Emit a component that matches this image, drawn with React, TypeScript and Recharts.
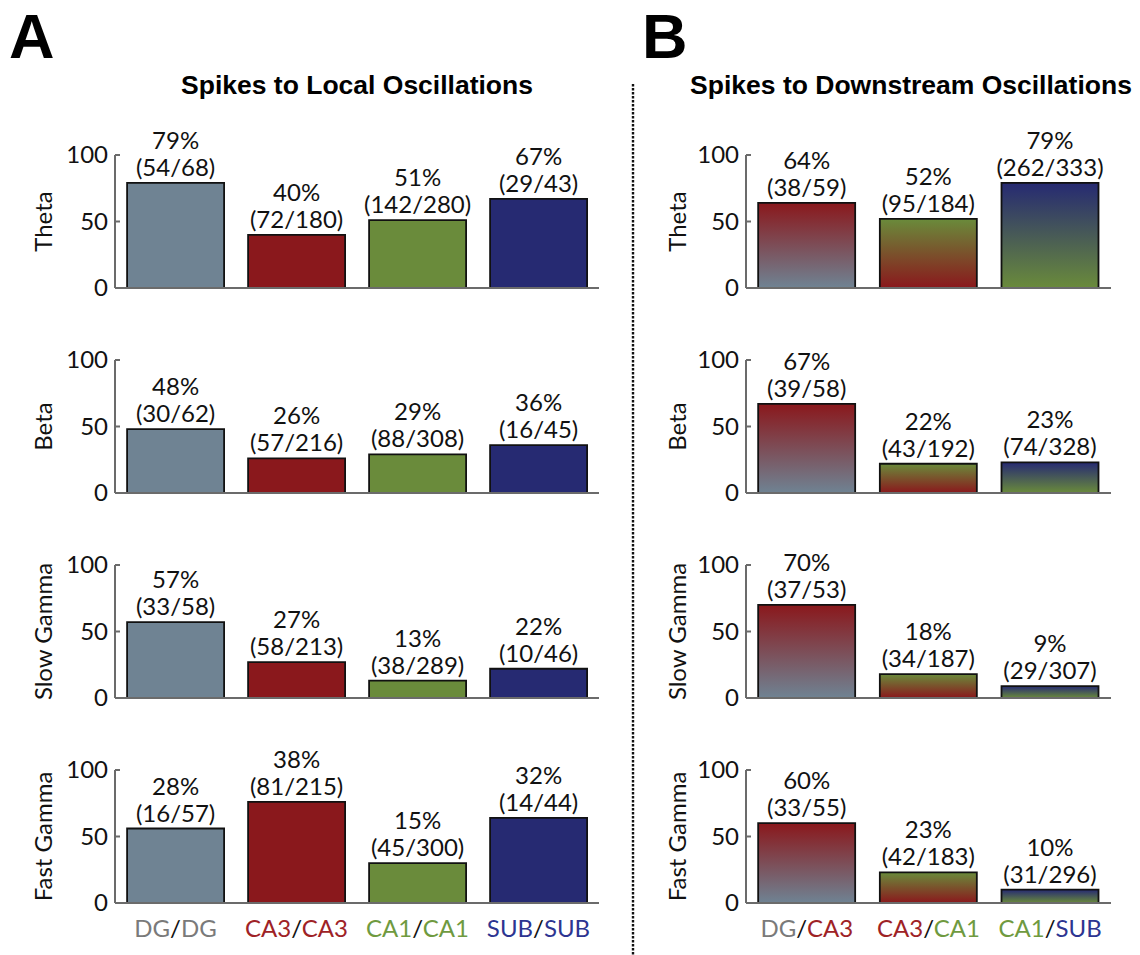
import React from "react";
import { BarChart, Bar, XAxis, YAxis, Cell, LabelList } from "recharts";

// categories
const localCategories = ["DG/DG", "CA3/CA3", "CA1/CA1", "SUB/SUB"];
const downstreamCategories = ["DG/CA3", "CA3/CA1", "CA1/SUB"];
const bandNames = ["Theta", "Beta", "Slow Gamma", "Fast Gamma"];

// spikes to local oscillations: bar heights as drawn
const localTheta = [79, 40, 51, 67];
const localBeta = [48, 26, 29, 36];
const localSlowGamma = [57, 27, 13, 22];
const localFastGamma = [56, 76, 30, 64];

const localThetaPct = ["79%", "40%", "51%", "67%"];
const localBetaPct = ["48%", "26%", "29%", "36%"];
const localSlowGammaPct = ["57%", "27%", "13%", "22%"];
const localFastGammaPct = ["28%", "38%", "15%", "32%"];

const localThetaCounts = ["(54/68)", "(72/180)", "(142/280)", "(29/43)"];
const localBetaCounts = ["(30/62)", "(57/216)", "(88/308)", "(16/45)"];
const localSlowGammaCounts = ["(33/58)", "(58/213)", "(38/289)", "(10/46)"];
const localFastGammaCounts = ["(16/57)", "(81/215)", "(45/300)", "(14/44)"];

// spikes to downstream oscillations
const downTheta = [64, 52, 79];
const downBeta = [67, 22, 23];
const downSlowGamma = [70, 18, 9];
const downFastGamma = [60, 23, 10];

const downThetaPct = ["64%", "52%", "79%"];
const downBetaPct = ["67%", "22%", "23%"];
const downSlowGammaPct = ["70%", "18%", "9%"];
const downFastGammaPct = ["60%", "23%", "10%"];

const downThetaCounts = ["(38/59)", "(95/184)", "(262/333)"];
const downBetaCounts = ["(39/58)", "(43/192)", "(74/328)"];
const downSlowGammaCounts = ["(37/53)", "(34/187)", "(29/307)"];
const downFastGammaCounts = ["(33/55)", "(42/183)", "(31/296)"];

const yTicks = [0, 50, 100];

const barColor: Record<string, string> = {
  DG: "#6f8393",
  CA3: "#8a181c",
  CA1: "#6a8b3b",
  SUB: "#262a72",
};
const textColor: Record<string, string> = {
  DG: "#7a7a7a",
  CA3: "#9e2226",
  CA1: "#6f9a40",
  SUB: "#2d3591",
};

const FONT = "Lato, 'Open Sans', sans-serif";
const FS = 24;
const AXIS = "#6b6b6b";

const PLOT_H = 133;
const ROW_PITCH = 205;
const FIRST_TOP = 155;
const TOP_PAD = 75;
const BOTTOM_PAD = 18;

function YTick(props: any) {
  const { x, y, payload } = props;
  return (
    <g>
      <line x1={x} x2={x + 5} y1={y} y2={y} stroke={AXIS} strokeWidth={2} />
      <text x={x - 7} y={y} dy={8} textAnchor="end" fontSize={FS} fontFamily={FONT} fill="#111">
        {payload.value}
      </text>
    </g>
  );
}

function CatTick(props: any) {
  const { x, y, payload } = props;
  const [a, b] = String(payload.value).split("/");
  return (
    <text x={x} y={y + 34} textAnchor="middle" fontSize={FS} fontFamily={FONT}>
      <tspan fill={textColor[a]}>{a}</tspan>
      <tspan fill="#111">/</tspan>
      <tspan fill={textColor[b]}>{b}</tspan>
    </text>
  );
}

function makeTopLabel(pct: string[], counts: string[]) {
  return (props: any) => {
    const x = Number(props.x);
    const y = Number(props.y);
    const w = Number(props.width);
    const i = props.index;
    const cx = x + w / 2;
    return (
      <text textAnchor="middle" fontSize={FS} fontFamily={FONT} fill="#111">
        <tspan x={cx} y={y - 34}>{pct[i]}</tspan>
        <tspan x={cx} y={y - 7}>{counts[i]}</tspan>
      </text>
    );
  };
}

interface RowProps {
  categories: string[];
  values: number[];
  pct: string[];
  counts: string[];
  band: string;
  row: number;
  left: number;
  width: number;
  yAxisWidth: number;
  rightPad: number;
  labelX: number;
  gradient?: boolean;
  idPrefix: string;
}

function Row(p: RowProps) {
  const last = p.row === 3;
  const xh = last ? 45 : 2;
  const bottom = last ? 0 : BOTTOM_PAD;
  const data = p.categories.map((c, i) => ({ name: c, value: p.values[i] }));
  const plotTop = FIRST_TOP + p.row * ROW_PITCH;
  return (
    <div style={{ position: "absolute", left: p.left, top: plotTop - TOP_PAD }}>
      <BarChart
        width={p.width}
        height={TOP_PAD + PLOT_H + xh + bottom}
        data={data}
        margin={{ top: TOP_PAD, right: p.rightPad, bottom, left: 0 }}
        barCategoryGap="10%"
      >
        <defs>
          {p.categories.map((c, i) => {
            const [a, b] = c.split("/");
            return (
              <linearGradient key={c} id={`${p.idPrefix}-${i}`} x1="0" y1="0" x2="0" y2="1">
                <stop offset="0%" stopColor={barColor[b]} />
                <stop offset="100%" stopColor={barColor[a]} />
              </linearGradient>
            );
          })}
        </defs>
        <XAxis
          dataKey="name"
          height={xh}
          axisLine={{ stroke: AXIS, strokeWidth: 2 }}
          tickLine={false}
          tickSize={0}
          tickMargin={0}
          interval={0}
          tick={last ? <CatTick /> : false}
        />
        <YAxis
          type="number"
          domain={[0, 100]}
          ticks={yTicks}
          interval={0}
          width={p.yAxisWidth}
          axisLine={{ stroke: AXIS, strokeWidth: 2 }}
          tickLine={false}
          tickSize={0}
          tickMargin={0}
          tick={<YTick />}
          label={(lp: any) => {
            const vb = lp.viewBox || {};
            const cy = vb.y + vb.height / 2;
            return (
              <text
                x={p.labelX}
                y={cy}
                transform={`rotate(-90 ${p.labelX} ${cy})`}
                textAnchor="middle"
                dominantBaseline="central"
                fontSize={FS}
                fontFamily={FONT}
                fill="#111"
              >
                {p.band}
              </text>
            );
          }}
        />
        <Bar dataKey="value" stroke="#111" strokeWidth={1.8} isAnimationActive={false}>
          {p.categories.map((c, i) => (
            <Cell
              key={c}
              fill={p.gradient ? `url(#${p.idPrefix}-${i})` : barColor[c.split("/")[0]]}
            />
          ))}
          <LabelList dataKey="value" content={makeTopLabel(p.pct, p.counts)} />
        </Bar>
      </BarChart>
    </div>
  );
}

const localRows = [
  { values: localTheta, pct: localThetaPct, counts: localThetaCounts },
  { values: localBeta, pct: localBetaPct, counts: localBetaCounts },
  { values: localSlowGamma, pct: localSlowGammaPct, counts: localSlowGammaCounts },
  { values: localFastGamma, pct: localFastGammaPct, counts: localFastGammaCounts },
];
const downRows = [
  { values: downTheta, pct: downThetaPct, counts: downThetaCounts },
  { values: downBeta, pct: downBetaPct, counts: downBetaCounts },
  { values: downSlowGamma, pct: downSlowGammaPct, counts: downSlowGammaCounts },
  { values: downFastGamma, pct: downFastGammaPct, counts: downFastGammaCounts },
];

export default function App() {
  return (
    <div style={{ position: "absolute", left: 0, top: 0, width: 1140, height: 955, background: "#fff" }}>
      <svg width={1140} height={955} style={{ position: "absolute", left: 0, top: 0 }}>
        <text x={9} y={58} fontSize={63} fontWeight="bold" fontFamily="'Liberation Sans', Arial, sans-serif" fill="#000">
          A
        </text>
        <text x={642} y={58} fontSize={63} fontWeight="bold" fontFamily="'Liberation Sans', Arial, sans-serif" fill="#000">
          B
        </text>
        <text x={357} y={94} textAnchor="middle" fontSize={26.5} fontWeight="bold" fontFamily="'Liberation Sans', Arial, sans-serif" fill="#000">
          Spikes to Local Oscillations
        </text>
        <text x={911} y={94} textAnchor="middle" fontSize={26.5} fontWeight="bold" fontFamily="'Liberation Sans', Arial, sans-serif" fill="#000">
          Spikes to Downstream Oscillations
        </text>
        <line x1={633} x2={633} y1={84} y2={955} stroke="#111" strokeWidth={2.4} strokeDasharray="2.4 1.6" />
      </svg>
      {localRows.map((r, i) => (
        <Row
          key={`l${i}`}
          categories={localCategories}
          values={r.values}
          pct={r.pct}
          counts={r.counts}
          band={bandNames[i]}
          row={i}
          left={0}
          width={620}
          yAxisWidth={115}
          rightPad={21}
          labelX={42}
          idPrefix={`gl${i}`}
        />
      ))}
      {downRows.map((r, i) => (
        <Row
          key={`d${i}`}
          categories={downstreamCategories}
          values={r.values}
          pct={r.pct}
          counts={r.counts}
          band={bandNames[i]}
          row={i}
          left={640}
          width={500}
          yAxisWidth={106}
          rightPad={29}
          labelX={36}
          gradient
          idPrefix={`gd${i}`}
        />
      ))}
    </div>
  );
}
